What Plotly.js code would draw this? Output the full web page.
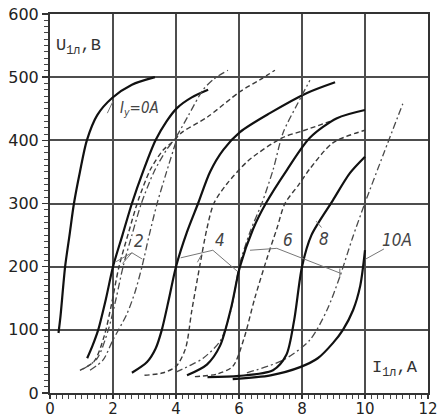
<!DOCTYPE html>
<html><head><meta charset="utf-8">
<script src="https://cdn.plot.ly/plotly-3.0.1.min.js"></script>
<style>html,body{margin:0;padding:0;background:#fff}#chart{width:438px;height:417px}</style>
</head><body><div id="chart"></div>
<script>
// Axis ticks
const xTicks = [0, 2, 4, 6, 8, 10, 12];
const yTicks = [0, 100, 200, 300, 400, 500, 600];

// I = 0 A (solid)
const s0x = [0.27, 0.33, 0.48, 0.62, 0.76, 0.95, 1.17, 1.5, 1.97, 2.6, 3.33];
const s0y = [95, 120, 200, 250, 300, 350, 400, 440, 467, 488, 500];

// I = 2 A
const s2x = [1.18, 1.35, 1.53, 1.78, 2.0, 2.3, 2.6, 2.95, 3.35, 3.7, 4.03, 4.5, 5.02];
const s2y = [55, 75, 100, 150, 200, 250, 300, 350, 400, 430, 451, 468, 480];
const d2x = [0.95, 1.4, 1.72, 1.95, 2.19, 2.5, 2.8, 3.2, 3.6, 3.9, 4.2, 5.0, 6.03, 6.67, 7.14];
const d2y = [36, 50, 90, 140, 200, 255, 305, 355, 385, 398, 413, 437, 477, 496, 511];
const c1x = [1.05, 1.5, 1.85, 2.1, 2.32, 2.6, 2.9, 3.3, 3.7, 4.0, 4.4, 4.86, 5.2, 5.65];
const c1y = [38, 55, 100, 150, 200, 250, 300, 350, 385, 405, 440, 480, 497, 511];
const c2x = [1.27, 1.68, 2.0, 2.44, 2.7, 2.92, 3.15, 3.4, 3.7, 4.0];
const c2y = [36, 52, 84, 125, 160, 200, 250, 300, 350, 398];

// I = 4 A
const s4x = [2.6, 3.08, 3.35, 3.55, 3.78, 4.0, 4.35, 4.7, 5.08, 5.5, 6.03, 6.98, 8.16, 9.05];
const s4y = [32, 49, 70, 100, 150, 200, 255, 300, 350, 385, 413, 443, 475, 492];
const d4x = [3.0, 3.6, 4.0, 4.3, 4.5, 4.75, 4.98, 5.2, 5.6, 6.3, 7.37, 8.03, 8.89];
const d4y = [28, 32, 42, 70, 130, 200, 260, 300, 330, 368, 404, 415, 430];
const c4x = [4.0, 4.5, 4.86, 5.4, 5.71, 5.88, 6.0, 6.35, 6.73, 7.08, 7.4, 7.87, 8.25];
const c4y = [33, 45, 55, 82, 125, 165, 200, 255, 301, 353, 412, 459, 495];

// I = 6 A
const s6x = [4.35, 4.98, 5.4, 5.75, 6.03, 6.45, 6.85, 7.52, 8.25, 9.11, 10.0];
const s6y = [28, 45, 75, 135, 200, 260, 300, 353, 404, 435, 448];
const d6x = [4.6, 5.3, 5.8, 6.15, 6.5, 6.9, 7.2, 7.46, 7.9, 8.25, 8.98, 10.0];
const d6y = [26, 30, 42, 85, 150, 215, 260, 300, 330, 355, 396, 416];
const c6x = [6.25, 7.4, 8.25, 8.79, 9.2, 9.6, 10.0, 10.6, 11.2];
const c6y = [32, 52, 84, 131, 184, 245, 301, 380, 458];

// I = 8 A
const s8x = [5.0, 6.0, 7.08, 7.5, 7.75, 8.0, 8.3, 8.98, 9.52, 10.0];
const s8y = [25, 27, 36, 60, 115, 200, 250, 305, 348, 374];

// I = 10 A
const s10x = [5.8, 7.0, 7.94, 8.5, 8.98, 9.3, 9.62, 9.85, 10.0];
const s10y = [22, 28, 41, 55, 79, 100, 131, 170, 226];

// Label leader lines
const l0x = [1.82, 2.0], l0y = [443, 462];
const l2ax = [2.1, 2.6, 2.93], l2ay = [208, 222, 212];
const l2bx = [2.3, 2.6], l2by = [205, 222];
const l4ax = [4.15, 5.17, 5.94], l4ay = [214, 226, 193];
const l4bx = [4.68, 4.8], l4by = [207, 218];
const l6x = [6.35, 7.2, 9.2], l6y = [226, 229, 190];
const l6tx = [9.2, 9.2], l6ty = [183, 197];
const l8x = [8.45, 8.62], l8y = [272, 262];
const l10x = [10.02, 10.6], l10y = [212, 228];

// Labels
const labelText = ['I<sub>у</sub>=0A', '2', '4', '6', '8', '10A'];
const labelX = [2.85, 2.83, 5.4, 7.56, 8.7, 11.0];
const labelY = [451, 240, 242, 242, 244, 242];

const SOLID = {color: '#111', width: 2.2};
const DASH = {color: '#3a3a3a', width: 1.4, dash: '5px,3px'};
const DDOT = {color: '#4a4a4a', width: 1.3, dash: '7px,3px,2px,3px'};
const LEAD = {color: '#777', width: 1};

function tr(x, y, line, smooth) {
  return {x: x, y: y, type: 'scatter', mode: 'lines', hoverinfo: 'skip',
    line: Object.assign({shape: smooth ? 'spline' : 'linear', smoothing: 0.8}, line)};
}

const data = [
  tr(s0x, s0y, SOLID, 1),
  tr(s2x, s2y, SOLID, 1), tr(d2x, d2y, DASH, 1), tr(c1x, c1y, DDOT, 1), tr(c2x, c2y, DDOT, 1),
  tr(s4x, s4y, SOLID, 1), tr(d4x, d4y, DASH, 1), tr(c4x, c4y, DDOT, 1),
  tr(s6x, s6y, SOLID, 1), tr(d6x, d6y, DASH, 1), tr(c6x, c6y, DDOT, 1),
  tr(s8x, s8y, SOLID, 1),
  tr(s10x, s10y, SOLID, 1),
  tr(l0x, l0y, LEAD, 0), tr(l2ax, l2ay, LEAD, 0), tr(l2bx, l2by, LEAD, 0),
  tr(l4ax, l4ay, LEAD, 0), tr(l4bx, l4by, LEAD, 0),
  tr(l6x, l6y, LEAD, 0), tr(l6tx, l6ty, LEAD, 0),
  tr(l8x, l8y, LEAD, 0), tr(l10x, l10y, LEAD, 0)
];

const labFont = {family: 'DejaVu Sans Condensed, DejaVu Sans', size: 16, color: '#444', style: 'italic'};
const annotations = labelText.map((t, i) => ({
  x: labelX[i], y: labelY[i], xref: 'x', yref: 'y', text: t, showarrow: false,
  font: Object.assign({}, labFont, i === 0 ? {size: 15} : {size: 17})
}));
annotations.push({x: 0.9, y: 548, xref: 'x', yref: 'y', text: 'U<sub>1л</sub>,B', showarrow: false,
  font: {family: 'Liberation Mono', size: 17, color: '#333'}});
annotations.push({x: 10.95, y: 38, xref: 'x', yref: 'y', text: 'I<sub>1л</sub>,A', showarrow: false,
  font: {family: 'Liberation Mono', size: 17, color: '#333'}});

const layout = {
  width: 438, height: 417,
  margin: {l: 50, r: 10, t: 14, b: 24},
  paper_bgcolor: '#fff', plot_bgcolor: '#fff',
  showlegend: false, hovermode: false,
  xaxis: {range: [0, 12], tickmode: 'linear', tick0: xTicks[0], dtick: xTicks[1] - xTicks[0],
    showgrid: true, gridcolor: '#4d4d4d', gridwidth: 2, zeroline: false,
    showline: true, linecolor: '#333', linewidth: 2, mirror: true,
    ticks: 'outside', ticklen: 4, tickcolor: '#333', tickwidth: 1.5,
    ticklabelstandoff: -3,
    minor: {dtick: 0.2, tick0: 0, ticks: 'outside', ticklen: 4, tickcolor: '#444', tickwidth: 1, showgrid: false},
    tickfont: {family: 'DejaVu Sans', size: 15, color: '#222'}},
  yaxis: {range: [0, 600], tickmode: 'linear', tick0: yTicks[0], dtick: yTicks[1] - yTicks[0],
    showgrid: true, gridcolor: '#4d4d4d', gridwidth: 2, zeroline: false,
    showline: true, linecolor: '#333', linewidth: 2, mirror: true,
    ticks: 'outside', ticklen: 6, tickcolor: '#333', tickwidth: 1.5,
    minor: {dtick: 10, tick0: 0, ticks: 'outside', ticklen: 4, tickcolor: '#444', tickwidth: 1, showgrid: false},
    tickfont: {family: 'DejaVu Sans', size: 16, color: '#222'}},
  annotations: annotations
};

Plotly.newPlot('chart', data, layout, {staticPlot: true, displayModeBar: false});
</script>
</body></html>
